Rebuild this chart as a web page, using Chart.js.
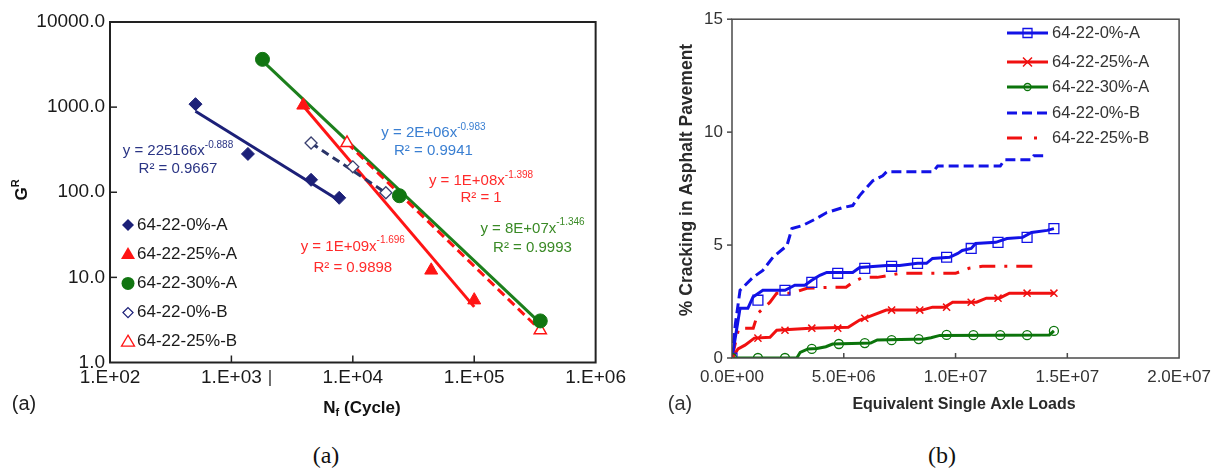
<!DOCTYPE html>
<html><head><meta charset="utf-8">
<script src="https://cdn.jsdelivr.net/npm/chart.js@4.4.0/dist/chart.umd.min.js"></script>
<style>
html,body{margin:0;padding:0;background:#fff;width:1220px;height:469px;overflow:hidden;position:relative;}
#cl{position:absolute;left:0;top:0;}
#cr{position:absolute;left:630px;top:0;}
.cap{position:absolute;width:60px;text-align:center;font-family:"Liberation Serif","Times New Roman",serif;font-size:24px;color:#111;top:440px;line-height:30px;}
</style></head><body>
<canvas id="cl" width="630" height="430"></canvas>
<canvas id="cr" width="590" height="430"></canvas>
<div class="cap" style="left:296px">(a)</div>
<div class="cap" style="left:912px">(b)</div>
<script>
// ---------- Chart (a): fatigue, log-log ----------
const nf_0A = [506, 1368, 4530, 7727];
const gr_0A = [1084, 282, 140, 86];
const nf_25A = [3908, 44240, 100000];
const gr_25A = [1050, 12.1, 5.4];
const nf_30A = [1803, 24210, 350000];
const gr_30A = [3640, 91, 3.08];
const nf_0B = [4530, 10000, 18710];
const gr_0B = [379, 199, 98.6];
const nf_25B = [8955, 350000];
const gr_25B = [379, 2.4];
// power-law trend line end points
const trNf_0A = [506, 7727],    trGr_0A = [894, 80];
const trNf_25A = [3908, 100000], trGr_25A = [1030, 4.5];
const trNf_30A = [1803, 350000], trGr_30A = [3500, 2.9];
const trNf_0B = [4530, 18710],  trGr_0B = [379, 98.6];
const trNf_25B = [8955, 350000], trGr_25B = [379, 2.4];
const xTickValsA = [100, 1000, 10000, 100000, 1000000];
const xTickLabelsA = ['1.E+02', '1.E+03', '1.E+04', '1.E+05', '1.E+06'];
const yTickValsA = [1, 10, 100, 1000, 10000];
const yTickLabelsA = ['1.0', '10.0', '100.0', '1000.0', '10000.0'];
const seriesNamesA = ['64-22-0%-A', '64-22-25%-A', '64-22-30%-A', '64-22-0%-B', '64-22-25%-B'];
const eqMain = ['y = 225166x', 'y = 2E+06x', 'y = 1E+08x', 'y = 8E+07x', 'y = 1E+09x'];
const eqExp = ['-0.888', '-0.983', '-1.398', '-1.346', '-1.696'];
const eqR2 = ['R² = 0.9667', 'R² = 0.9941', 'R² = 1', 'R² = 0.9993', 'R² = 0.9898'];
// label anchors (data coordinates)
const eqAnchorX = [363, 46130, 113800, 302000, 10000];
const eqAnchorY1 = [306, 496, 136, 37.4, 23.0];
const eqAnchorY2 = [188, 306, 86, 22.4, 13.1];

// ---------- Chart (b): cracking vs ESAL (millions) ----------
const esal_0A = [0, 0.36, 0.71, 0.94, 1.38, 2.37, 2.81, 3.26, 3.57, 3.93, 4.24, 5.4, 5.71, 6.92, 7.5, 8.3, 8.7, 8.97, 9.73, 10.1, 10.3, 10.7, 10.9, 11.8, 12.3, 13.0, 13.4, 14.1, 14.4];
const crk_0A = [0, 2.2, 2.2, 2.7, 3.0, 3.0, 3.22, 3.22, 3.44, 3.66, 3.79, 3.79, 4.01, 4.1, 4.1, 4.19, 4.19, 4.41, 4.46, 4.63, 4.76, 4.85, 5.07, 5.12, 5.29, 5.34, 5.56, 5.65, 5.73];
const mkEsal_0A = [0, 1.16, 2.37, 3.57, 4.73, 5.94, 7.14, 8.3, 9.6, 10.7, 11.9, 13.2, 14.4];
const mkCrk_0A = [0, 2.56, 3.0, 3.35, 3.75, 3.97, 4.06, 4.19, 4.46, 4.85, 5.12, 5.34, 5.73];
const esal_25A = [0, 0.27, 0.58, 1.0, 1.7, 2.0, 3.5, 5.2, 5.71, 6.07, 6.9, 8.5, 8.97, 9.5, 9.87, 10.94, 11.38, 11.96, 12.41, 14.42];
const crk_25A = [0, 0.4, 0.57, 0.88, 0.92, 1.23, 1.32, 1.36, 1.68, 1.81, 2.12, 2.12, 2.25, 2.25, 2.47, 2.47, 2.65, 2.65, 2.87, 2.87];
const mkEsal_25A = [0, 1.16, 2.37, 3.57, 4.73, 5.94, 7.14, 8.4, 9.6, 10.7, 11.9, 13.2, 14.4];
const mkCrk_25A = [0, 0.88, 1.23, 1.32, 1.32, 1.76, 2.12, 2.12, 2.25, 2.47, 2.65, 2.87, 2.87];
const esal_30A = [0, 2.9, 3.05, 3.4, 3.8, 4.2, 4.5, 6.2, 6.5, 8.6, 8.9, 9.3, 14.2, 14.4];
const crk_30A = [0, 0, 0.25, 0.4, 0.42, 0.5, 0.62, 0.66, 0.8, 0.84, 0.9, 1.0, 1.02, 1.2];
const mkEsal_30A = [0, 1.16, 2.37, 3.57, 4.78, 5.94, 7.14, 8.35, 9.6, 10.8, 12.0, 13.2, 14.4];
const mkCrk_30A = [0, 0, 0, 0.4, 0.62, 0.66, 0.79, 0.84, 1.02, 1.01, 1.01, 1.01, 1.2];
const esal_0B = [0, 0.15, 0.36, 0.94, 1.38, 1.83, 2.46, 2.68, 3.17, 3.79, 4.24, 4.96, 5.4, 5.71, 6.3, 6.74, 6.92, 9.0, 9.2, 12.0, 12.2, 13.4, 13.5, 14.1];
const crk_0B = [0, 1.5, 3.0, 3.57, 3.88, 4.46, 4.98, 5.73, 5.87, 6.18, 6.44, 6.66, 6.75, 7.19, 7.85, 8.07, 8.25, 8.25, 8.5, 8.5, 8.78, 8.78, 8.95, 8.95];
const esal_25B = [0, 0.3, 0.95, 1.16, 1.7, 2.0, 2.7, 3.35, 4.4, 5.1, 5.4, 5.85, 6.5, 7.05, 7.5, 10.0, 10.6, 11.2, 13.8];
const crk_25B = [0, 1.32, 1.32, 1.98, 2.47, 2.87, 2.87, 3.09, 3.13, 3.13, 3.35, 3.57, 3.57, 3.66, 3.75, 3.75, 3.97, 4.06, 4.06];
const xTickValsB = [0, 5, 10, 15, 20];
const xTickLabelsB = ['0.0E+00', '5.0E+06', '1.0E+07', '1.5E+07', '2.0E+07'];
const yTickValsB = [0, 5, 10, 15];
const yTickLabelsB = ['0', '5', '10', '15'];
const seriesNamesB = ['64-22-0%-A', '64-22-25%-A', '64-22-30%-A', '64-22-0%-B', '64-22-25%-B'];

// ---------- helpers ----------
const FONT = '"Liberation Sans", Arial, sans-serif';
const zip = (xs, ys) => xs.map((v, i) => ({x: v, y: ys[i]}));
const NAVY = '#1c2078', RED = '#ff1414', GREEN = '#117511';
const BLUE = '#1212e6', RED2 = '#f01010', GREEN2 = '#0b740b';

function marker(ctx, style, x, y, r, fill, stroke, lw) {
  ctx.save();
  ctx.beginPath();
  if (style === 'diamond') { ctx.moveTo(x, y - r); ctx.lineTo(x + r, y); ctx.lineTo(x, y + r); ctx.lineTo(x - r, y); ctx.closePath(); }
  else if (style === 'triangle') { const h = r * 1.7; ctx.moveTo(x, y - h * 0.6); ctx.lineTo(x + r, y + h * 0.4); ctx.lineTo(x - r, y + h * 0.4); ctx.closePath(); }
  else if (style === 'circle') { ctx.arc(x, y, r, 0, Math.PI * 2); }
  else if (style === 'square') { ctx.rect(x - r, y - r, 2 * r, 2 * r); }
  else if (style === 'cross') { ctx.moveTo(x - r, y - r); ctx.lineTo(x + r, y + r); ctx.moveTo(x + r, y - r); ctx.lineTo(x - r, y + r); }
  if (fill) { ctx.fillStyle = fill; ctx.fill(); }
  if (stroke) { ctx.strokeStyle = stroke; ctx.lineWidth = lw || 1.5; ctx.stroke(); }
  ctx.restore();
}

// ---------- Chart (a) ----------
const plugA = {
  id: 'plugA',
  afterDraw(chart) {
    const ctx = chart.ctx, a = chart.chartArea, sx = chart.scales.x, sy = chart.scales.y;
    ctx.save();
    ctx.strokeStyle = '#222'; ctx.lineWidth = 2;
    ctx.strokeRect(a.left, a.top, a.right - a.left, a.bottom - a.top);
    ctx.lineWidth = 1.5;
    xTickValsA.slice(1, -1).forEach(v => { const px = sx.getPixelForValue(v); ctx.beginPath(); ctx.moveTo(px, a.bottom); ctx.lineTo(px, a.bottom - 7); ctx.stroke(); });
    yTickValsA.slice(1, -1).forEach(v => { const py = sy.getPixelForValue(v); ctx.beginPath(); ctx.moveTo(a.left, py); ctx.lineTo(a.left + 7, py); ctx.stroke(); });
    const eqColors = ['#2b3585', '#3a7fd2', '#ff2b2b', '#3a8a26', '#ff2b2b'];
    eqMain.forEach((t, i) => {
      const cx = sx.getPixelForValue(eqAnchorX[i]);
      const y1 = sy.getPixelForValue(eqAnchorY1[i]);
      const y2 = sy.getPixelForValue(eqAnchorY2[i]);
      ctx.fillStyle = eqColors[i];
      ctx.textBaseline = 'middle';
      ctx.font = '15px ' + FONT; const w1 = ctx.measureText(t).width;
      ctx.font = '10px ' + FONT; const w2 = ctx.measureText(eqExp[i]).width;
      const x0 = cx - (w1 + w2) / 2;
      ctx.textAlign = 'left';
      ctx.font = '15px ' + FONT; ctx.fillText(t, x0, y1);
      ctx.font = '10px ' + FONT; ctx.fillText(eqExp[i], x0 + w1, y1 - 6);
      ctx.font = '15px ' + FONT; ctx.textAlign = 'center'; ctx.fillText(eqR2[i], cx, y2);
    });
    const styles = [['diamond', NAVY, null, 6], ['triangle', RED, null, 7], ['circle', GREEN, null, 6.5], ['diamond', '#fff', NAVY, 5], ['triangle', '#fff', RED, 6.5]];
    ctx.font = '17px ' + FONT; ctx.fillStyle = '#1a1a1a'; ctx.textAlign = 'left'; ctx.textBaseline = 'middle';
    seriesNamesA.forEach((n, i) => {
      const ly = a.top + 203 + i * 29.2;
      const s = styles[i];
      marker(ctx, s[0], a.left + 18, ly, s[3], s[1], s[2], 1.3);
      ctx.fillStyle = '#1a1a1a';
      ctx.fillText(n, a.left + 27, ly);
    });
    ctx.fillStyle = '#111';
    ctx.font = 'bold 17px ' + FONT; ctx.textAlign = 'left';
    const wN = ctx.measureText('N').width;
    ctx.font = 'bold 11px ' + FONT; const wf = ctx.measureText('f').width;
    ctx.font = 'bold 17px ' + FONT; const wc = ctx.measureText(' (Cycle)').width;
    let tx = 362 - (wN + wf + wc) / 2;
    ctx.fillText('N', tx, 408);
    ctx.font = 'bold 11px ' + FONT; ctx.fillText('f', tx + wN, 413);
    ctx.font = 'bold 17px ' + FONT; ctx.fillText(' (Cycle)', tx + wN + wf, 408);
    ctx.save(); ctx.translate(22, 190); ctx.rotate(-Math.PI / 2);
    ctx.font = 'bold 17px ' + FONT; const wG = ctx.measureText('G').width;
    ctx.font = 'bold 11px ' + FONT; const wR = ctx.measureText('R').width;
    ctx.font = 'bold 17px ' + FONT; ctx.fillText('G', -(wG + wR) / 2, 0);
    ctx.font = 'bold 11px ' + FONT; ctx.fillText('R', -(wG + wR) / 2 + wG, -6);
    ctx.restore();
    ctx.font = '20px ' + FONT; ctx.textAlign = 'center'; ctx.fillStyle = '#222';
    ctx.fillText('(a)', 24, 404);
    ctx.strokeStyle = '#111'; ctx.lineWidth = 1.2;
    ctx.beginPath(); ctx.moveTo(270, 370); ctx.lineTo(270, 386); ctx.stroke();
    ctx.restore();
  }
};

new Chart(document.getElementById('cl'), {
  type: 'scatter',
  data: { datasets: [
    {data: zip(trNf_0A, trGr_0A), showLine: true, borderColor: NAVY, borderWidth: 3, pointRadius: 0, order: 9},
    {data: zip(trNf_25A, trGr_25A), showLine: true, borderColor: RED, borderWidth: 3, pointRadius: 0, order: 9},
    {data: zip(trNf_30A, trGr_30A), showLine: true, borderColor: '#1c7f1c', borderWidth: 3, pointRadius: 0, order: 9},
    {data: zip(trNf_25B, trGr_25B), showLine: true, borderColor: RED, borderWidth: 3, borderDash: [9, 5], pointRadius: 0, order: 8},
    {data: zip(trNf_0B, trGr_0B), showLine: true, borderColor: '#2a3468', borderWidth: 3, borderDash: [8, 5], pointRadius: 0, order: 8},
    {data: zip(nf_0A, gr_0A), pointStyle: 'rectRot', pointRadius: 6.5, backgroundColor: NAVY, borderColor: NAVY, order: 1},
    {data: zip(nf_25A, gr_25A), pointStyle: 'triangle', pointRadius: 7.5, backgroundColor: RED, borderColor: RED, order: 1},
    {data: zip(nf_30A, gr_30A), pointStyle: 'circle', pointRadius: 7, backgroundColor: GREEN, borderColor: GREEN, order: 1},
    {data: zip(nf_0B, gr_0B), pointStyle: 'rectRot', pointRadius: 6, backgroundColor: '#fff', borderColor: '#3a4070', borderWidth: 1.3, order: 1},
    {data: zip(nf_25B, gr_25B), pointStyle: 'triangle', pointRadius: 7, backgroundColor: '#fff', borderColor: RED, borderWidth: 1.5, order: 1}
  ]},
  options: {
    responsive: false, animation: false, events: [],
    layout: {padding: {top: 22, right: 18, left: 0, bottom: 0}},
    plugins: {legend: {display: false}, tooltip: {enabled: false}},
    scales: {
      x: {type: 'logarithmic', min: 100, max: 1000000,
          afterBuildTicks: s => { s.ticks = xTickValsA.map(v => ({value: v})); },
          afterFit: s => { s.height = 67.5; },
          ticks: {callback: (v, i) => xTickLabelsA[i], font: {family: FONT, size: 19}, color: '#1a1a1a', padding: 4, maxRotation: 0, autoSkip: false},
          grid: {display: false, drawTicks: false}, border: {display: false}},
      y: {type: 'logarithmic', min: 1, max: 10000,
          afterBuildTicks: s => { s.ticks = yTickValsA.map(v => ({value: v})); },
          afterFit: s => { s.width = 110; },
          ticks: {callback: (v, i) => yTickLabelsA[i], font: {family: FONT, size: 19}, color: '#1a1a1a', padding: 5, autoSkip: false},
          grid: {display: false, drawTicks: false}, border: {display: false}}
    }
  },
  plugins: [plugA]
});

// ---------- Chart (b) ----------
const plugB = {
  id: 'plugB',
  afterDraw(chart) {
    const ctx = chart.ctx, a = chart.chartArea, sx = chart.scales.x, sy = chart.scales.y;
    ctx.save();
    ctx.strokeStyle = '#4a4a4a'; ctx.lineWidth = 1.5;
    ctx.strokeRect(a.left, a.top, a.right - a.left, a.bottom - a.top);
    xTickValsB.slice(1, -1).forEach(v => { const px = sx.getPixelForValue(v); ctx.beginPath(); ctx.moveTo(px, a.bottom); ctx.lineTo(px, a.bottom - 5); ctx.stroke(); });
    yTickValsB.forEach(v => { const py = sy.getPixelForValue(v); ctx.beginPath(); ctx.moveTo(a.left, py); ctx.lineTo(a.left - 5, py); ctx.stroke(); });
    const lx0 = 377, lx1 = 418, tx = 422;
    const ys = [33, 62, 87, 113, 138];
    ctx.font = '16.5px ' + FONT; ctx.textAlign = 'left'; ctx.textBaseline = 'middle';
    const cols = [BLUE, RED2, GREEN2, BLUE, RED2];
    seriesNamesB.forEach((n, i) => {
      const y = ys[i];
      ctx.strokeStyle = cols[i]; ctx.lineWidth = 3;
      ctx.beginPath();
      if (i === 3) ctx.setLineDash([10, 5]);
      if (i === 4) { ctx.moveTo(lx0, y); ctx.lineTo(lx0 + 15, y); }
      else { ctx.moveTo(lx0, y); ctx.lineTo(lx1, y); }
      ctx.stroke(); ctx.setLineDash([]);
      if (i === 4) { ctx.fillStyle = cols[i]; ctx.fillRect(lx0 + 27, y - 1.5, 3, 3); }
      const mid = (lx0 + lx1) / 2;
      if (i === 0) marker(ctx, 'square', mid, y, 4.5, null, BLUE, 1.3);
      if (i === 1) marker(ctx, 'cross', mid, y, 4.5, null, RED2, 1.5);
      if (i === 2) marker(ctx, 'circle', mid, y, 3.5, null, GREEN2, 1.3);
      ctx.fillStyle = '#333';
      ctx.fillText(n, tx, y);
    });
    ctx.fillStyle = '#2a2a2a';
    ctx.font = 'bold 16px ' + FONT; ctx.textAlign = 'center';
    ctx.fillText('Equivalent Single Axle Loads', 334, 405);
    ctx.save(); ctx.translate(57, 180); ctx.rotate(-Math.PI / 2);
    ctx.font = 'bold 17.5px ' + FONT;
    ctx.fillText('% Cracking in Asphalt Pavement', 0, 0);
    ctx.restore();
    ctx.font = '20px ' + FONT; ctx.fillStyle = '#333';
    ctx.fillText('(a)', 50, 404);
    ctx.restore();
  }
};

new Chart(document.getElementById('cr'), {
  type: 'scatter',
  data: { datasets: [
    {data: zip(esal_0B, crk_0B), showLine: true, borderColor: BLUE, borderWidth: 3, borderDash: [10, 5], pointRadius: 0, order: 6},
    {data: zip(esal_25B, crk_25B), showLine: true, borderColor: RED2, borderWidth: 3, borderDash: [16, 9, 3, 9], pointRadius: 0, order: 6},
    {data: zip(esal_30A, crk_30A), showLine: true, borderColor: GREEN2, borderWidth: 3, pointRadius: 0, order: 5},
    {data: zip(esal_25A, crk_25A), showLine: true, borderColor: RED2, borderWidth: 3, pointRadius: 0, order: 5},
    {data: zip(esal_0A, crk_0A), showLine: true, borderColor: BLUE, borderWidth: 3, pointRadius: 0, order: 5},
    {data: zip(mkEsal_30A, mkCrk_30A), pointStyle: 'circle', pointRadius: 4.5, backgroundColor: 'rgba(0,0,0,0)', borderColor: GREEN2, borderWidth: 1.3, order: 1},
    {data: zip(mkEsal_25A, mkCrk_25A), pointStyle: 'crossRot', pointRadius: 5, borderColor: RED2, borderWidth: 1.5, order: 1},
    {data: zip(mkEsal_0A, mkCrk_0A), pointStyle: 'rect', pointRadius: 7, backgroundColor: 'rgba(0,0,0,0)', borderColor: BLUE, borderWidth: 1.3, order: 1}
  ]},
  options: {
    responsive: false, animation: false, events: [],
    layout: {padding: {top: 19, right: 40, left: 0, bottom: 0}},
    plugins: {legend: {display: false}, tooltip: {enabled: false}},
    scales: {
      x: {type: 'linear', min: 0, max: 20,
          afterBuildTicks: s => { s.ticks = xTickValsB.map(v => ({value: v})); },
          afterFit: s => { s.height = 72; },
          ticks: {callback: (v, i) => xTickLabelsB[i], font: {family: FONT, size: 17}, color: '#333', padding: 9, maxRotation: 0, autoSkip: false},
          grid: {display: false, drawTicks: false}, border: {display: false}},
      y: {type: 'linear', min: 0, max: 15,
          afterBuildTicks: s => { s.ticks = yTickValsB.map(v => ({value: v})); },
          afterFit: s => { s.width = 102; },
          ticks: {callback: (v, i) => yTickLabelsB[i], font: {family: FONT, size: 17}, color: '#333', padding: 9, autoSkip: false},
          grid: {display: false, drawTicks: false}, border: {display: false}}
    }
  },
  plugins: [plugB]
});
</script>
</body></html>
